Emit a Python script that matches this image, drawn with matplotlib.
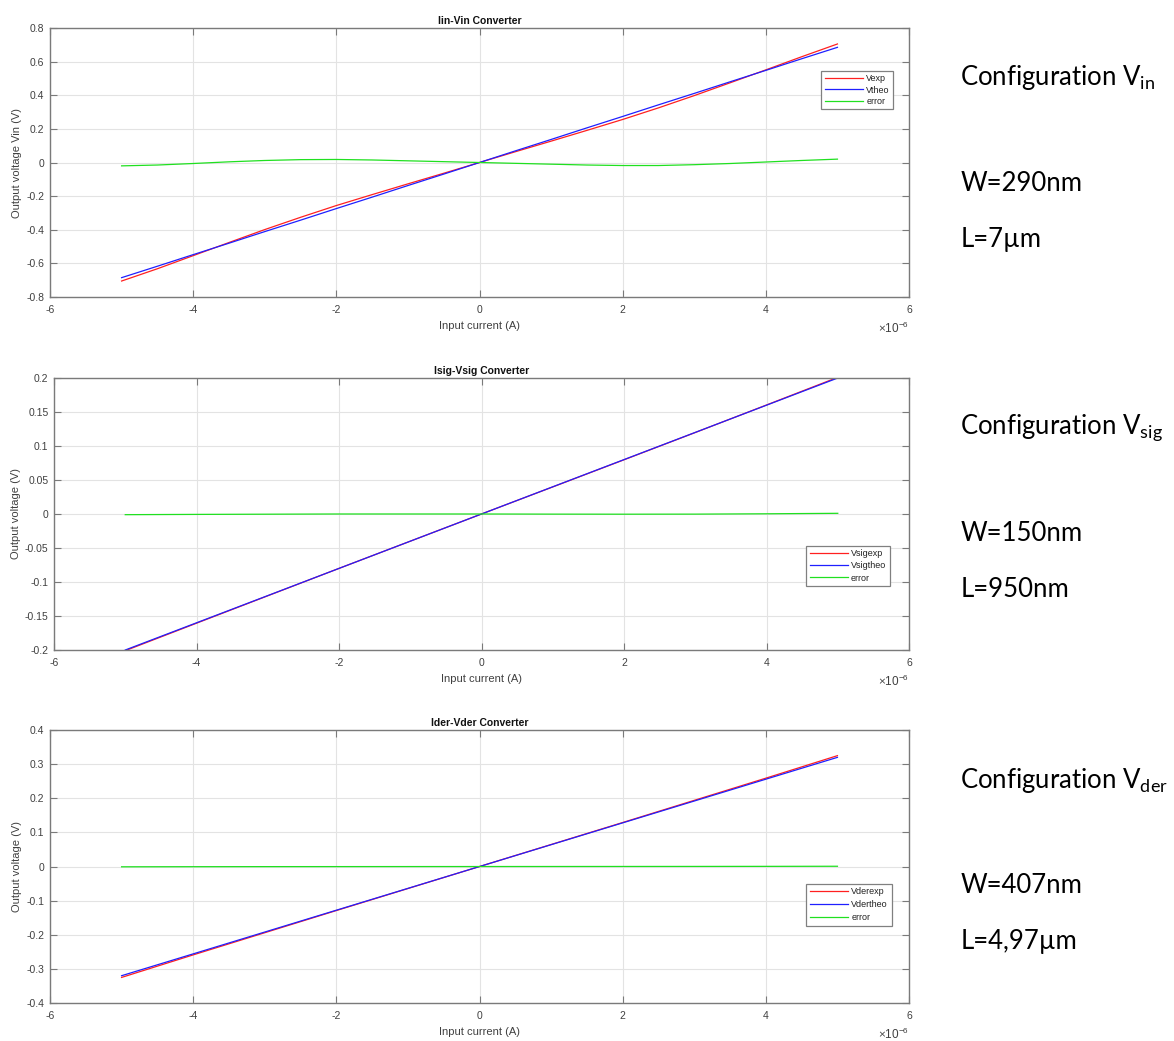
import matplotlib
matplotlib.use("Agg")
import matplotlib.pyplot as plt
import numpy as np

# input current (uA), shared x grid
x_fine_uA = [-5, -4.5, -4, -3.5, -3, -2.5, -2, -1.5, -1, -0.5, 0,
             0.5, 1, 1.5, 2, 2.5, 3, 3.5, 4, 4.5, 5]
x_coarse_uA = [-5, -4, -3, -2, -1, 0, 1, 2, 3, 4, 5]

# Iin-Vin converter
vin_exp = [-0.705, -0.632, -0.554, -0.476, -0.399, -0.326, -0.256, -0.191, -0.127, -0.064, 0.0,
           0.064, 0.127, 0.191, 0.256, 0.325, 0.398, 0.474, 0.551, 0.629, 0.705]
vin_theo = [-0.685, -0.617, -0.548, -0.480, -0.411, -0.343, -0.274, -0.206, -0.137, -0.069, 0.0,
            0.069, 0.137, 0.206, 0.274, 0.343, 0.411, 0.480, 0.548, 0.617, 0.685]
vin_err = [-0.020, -0.015, -0.006, 0.004, 0.012, 0.017, 0.018, 0.015, 0.010, 0.005, 0.0,
           -0.005, -0.010, -0.015, -0.018, -0.018, -0.013, -0.006, 0.003, 0.012, 0.020]

# Isig-Vsig converter
vsig_exp = [-0.201, -0.1606, -0.1203, -0.080, -0.040, 0.0, 0.0398, 0.0797, 0.1198, 0.1603, 0.201]
vsig_theo = [-0.200, -0.160, -0.120, -0.080, -0.040, 0.0, 0.040, 0.080, 0.120, 0.160, 0.200]
vsig_err = [-0.0010, -0.0006, -0.0003, 0.0, 0.0, 0.0, -0.0002, -0.0003, -0.0002, 0.0003, 0.0010]

# Ider-Vder converter
vder_exp = [-0.325, -0.259, -0.194, -0.129, -0.0645, 0.0, 0.0645, 0.129, 0.194, 0.259, 0.325]
vder_theo = [-0.320, -0.256, -0.192, -0.128, -0.064, 0.0, 0.064, 0.128, 0.192, 0.256, 0.320]
vder_err = [-0.0008, -0.0005, -0.0003, -0.0002, -0.0001, 0.0, 0.0001, 0.0002, 0.0003, 0.0005, 0.0008]

plt.rcParams["font.family"] = ["Liberation Sans", "DejaVu Sans"]
plt.rcParams["axes.unicode_minus"] = False
plt.rcParams["mathtext.fontset"] = "custom"
plt.rcParams["mathtext.rm"] = "Lato"

fig = plt.figure(figsize=(11.74, 10.41), dpi=100)

panels = [
    dict(pos=[0.0426, 0.7147, 0.7317, 0.2584], x=x_fine_uA,
         ys=(vin_exp, vin_theo, vin_err), labels=("Vexp", "Vtheo", "error"),
         title="Iin-Vin Converter", ylabel="Output voltage Vin (V)",
         ylim=(-0.8, 0.8), ystep=0.2, leg=(0.987, 0.858), lsp=0.25,
         conf="in", w="W=290nm", l="L=7µm"),
    dict(pos=[0.0460, 0.3756, 0.7283, 0.2613], x=x_coarse_uA,
         ys=(vsig_exp, vsig_theo, vsig_err), labels=("Vsigexp", "Vsigtheo", "error"),
         title="Isig-Vsig Converter", ylabel="Output voltage (V)",
         ylim=(-0.2, 0.2), ystep=0.05, leg=(0.983, 0.400), lsp=0.35,
         conf="sig", w="W=150nm", l="L=950nm"),
    dict(pos=[0.0426, 0.0365, 0.7317, 0.2622], x=x_coarse_uA,
         ys=(vder_exp, vder_theo, vder_err), labels=("Vderexp", "Vdertheo", "error"),
         title="Ider-Vder Converter", ylabel="Output voltage (V)",
         ylim=(-0.4, 0.4), ystep=0.1, leg=(0.985, 0.454), lsp=0.45,
         conf="der", w="W=407nm", l="L=4,97µm"),
]

colors = ["#ff2020", "#1f1fff", "#20e020"]
axis_grey = "#7a7a7a"
text_grey = "#404040"

for p in panels:
    ax = fig.add_axes(p["pos"])
    x = np.array(p["x"]) * 1e-6
    for y, c, lab in zip(p["ys"], colors, p["labels"]):
        ax.plot(x, y, color=c, lw=0.9, label=lab)
    ax.set_xlim(-6e-6, 6e-6)
    ax.set_xticks(np.arange(-6, 7, 2) * 1e-6)
    ax.set_ylim(*p["ylim"])
    ax.set_yticks(np.arange(p["ylim"][0], p["ylim"][1] + 1e-9, p["ystep"]))
    # MATLAB-style: plain tick labels in uA plus a separate x10^-6 multiplier
    ax.xaxis.set_major_formatter(matplotlib.ticker.FuncFormatter(
        lambda v, pos: "%g" % round(v * 1e6, 3)))
    ax.yaxis.set_major_formatter(matplotlib.ticker.FuncFormatter(
        lambda v, pos: "%g" % round(v, 3) if abs(v) > 1e-9 else "0"))
    ax.annotate(r"$\times\mathregular{10^{-6}}$", xy=(1.0, 0.0), xycoords="axes fraction",
                xytext=(0, -31), textcoords="offset pixels", ha="right", va="center",
                fontsize=8.5, color=text_grey)
    ax.grid(True, color="#e3e3e3", lw=0.8)
    ax.set_axisbelow(True)
    ax.tick_params(direction="in", top=True, right=True, length=5, width=0.8,
                   labelsize=7.5, colors=axis_grey, labelcolor=text_grey, pad=4)
    ax.tick_params(axis="x", pad=6)
    for s in ax.spines.values():
        s.set_color(axis_grey)
        s.set_linewidth(1.0)
    ax.set_title(p["title"], fontsize=7.5, fontweight="bold", pad=3, color="#111111")
    ax.set_xlabel("Input current (A)", fontsize=8, color=text_grey, labelpad=4)
    ax.set_ylabel(p["ylabel"], fontsize=8, color=text_grey, labelpad=3)
    leg = ax.legend(loc="upper right", bbox_to_anchor=p["leg"], fontsize=6.5,
                    handlelength=4.2, handletextpad=0.4, borderpad=0.4,
                    labelspacing=p["lsp"], fancybox=False, framealpha=1)
    leg.get_frame().set_edgecolor("#808080")
    leg.get_frame().set_linewidth(0.9)
    for t in leg.get_texts():
        t.set_color("#222222")

    # side annotations
    top = p["pos"][1] + p["pos"][3]
    fig.text(0.818, top - 0.048, "Configuration V$_{\\mathrm{%s}}$" % p["conf"],
             fontsize=18.5, family="Lato", va="center", ha="left")
    fig.text(0.818, top - 0.149, p["w"], fontsize=18.5, family="Lato", va="center", ha="left")
    fig.text(0.818, top - 0.203, p["l"], fontsize=18.5, family="Lato", va="center", ha="left")

fig.savefig("out.png", dpi=100)
